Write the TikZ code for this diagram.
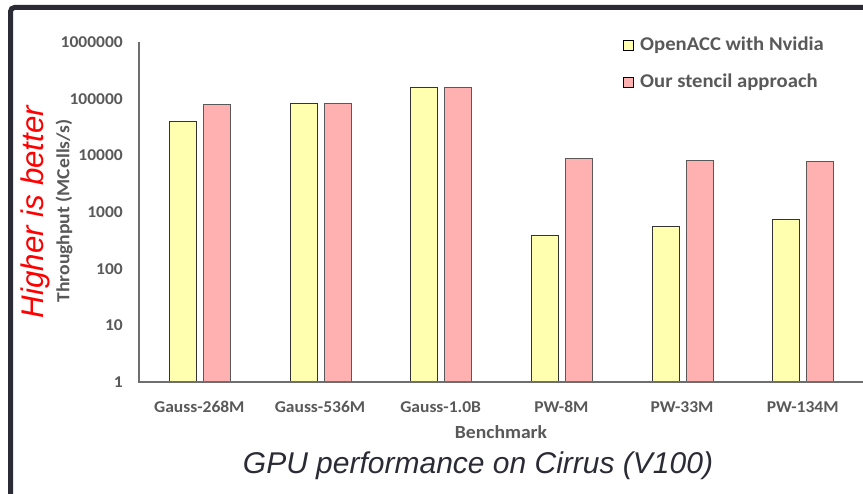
\documentclass[tikz,border=0pt]{standalone}
\usepackage{fontspec}
\setmainfont{Carlito}[FakeStretch=1.06]
\newfontfamily\titlefont{Liberation Sans}
\definecolor{framecol}{HTML}{2B2B35}
\definecolor{labelgrey}{HTML}{595959}
\definecolor{axisgrey}{HTML}{6E6E6E}
\definecolor{barY}{HTML}{FFFFAF}
\definecolor{barP}{HTML}{FFB1B1}
\definecolor{titleink}{HTML}{2B2B35}
\tikzset{
  ticklbl/.style={anchor=east, inner sep=0pt, text=labelgrey, font=\fontsize{16.5}{16.5}\selectfont\bfseries},
  catlbl/.style={inner sep=0pt, text=labelgrey, font=\fontsize{16.5}{16.5}\selectfont\bfseries},
  axislbl/.style={inner sep=0pt, text=labelgrey, font=\fontsize{18.5}{18.5}\selectfont\bfseries},
  legtext/.style={anchor=west, inner sep=0pt, text=labelgrey, font=\fontsize{19.5}{19.5}\selectfont\bfseries},
  yellowbar/.style={fill=barY, draw=black!80, line width=0.9pt},
  pinkbar/.style={fill=barP, draw=black!65, line width=0.9pt},
  axisline/.style={draw=axisgrey, line width=1.3pt},
}
\begin{document}
\begin{tikzpicture}[x=1pt, y=-1pt]
\useasboundingbox (0,0) rectangle (863,494);
\fill[white] (0,0) rectangle (863,494);
% slide frame
\draw[framecol, line width=5pt, rounded corners=4pt] (10.5,500) -- (10.5,7.5) -- (875,7.5);

% one decade of the log axis, in px
\def\dec{56.67}
\def\base{382}

% axes
\coordinate (o) at (139,\base);
\coordinate (ytop) at (139,42);
\coordinate (xend) at (863,\base);
\draw[axisline] (ytop) -- (o) -- (xend);

% tick labels
\foreach \lbl [count=\k from 0] in {1,10,100,1000,10000,100000,1000000}
  \node[ticklbl] (tick\k) at (123,{\base-\dec*\k}) {\lbl};

% bars: group index, category, log10 of OpenACC, log10 of stencil
\foreach \g/\name/\ly/\lp in {0/Gauss-268M/4.60/4.90, 1/Gauss-536M/4.92/4.92, 2/Gauss-1.0B/5.20/5.20,
                              3/PW-8M/2.58/3.95, 4/PW-33M/2.74/3.91, 5/PW-134M/2.86/3.89}{
  \pgfmathsetmacro\c{139+120.67*(\g+0.5)}
  \path[yellowbar] ({\c-30},\base) rectangle ({\c-3},{\base-\dec*\ly});
  \path[pinkbar] ({\c+4},\base) rectangle ({\c+31},{\base-\dec*\lp});
  \node[catlbl] (cat\g) at (\c,407) {\name};
}
\draw[axisline] (o) -- (xend);

% axis titles
\node[axislbl] (xtitle) at (501,432) {Benchmark};
\node[axislbl, rotate=90] (ytitle) at (64,211) {Throughput (MCells/s)};
\node[inner sep=0pt, rotate=90, text=red, font=\titlefont\itshape\fontsize{31.3}{31.3}\selectfont] (better) at (35,212) {Higher is better};

% legend
\node[draw=black, line width=0.9pt, fill=barY, minimum size=9.5pt, inner sep=0pt] (keyY) at (628.5,45.5) {};
\node[draw=black, line width=0.9pt, fill=barP, minimum size=9.5pt, inner sep=0pt] (keyP) at (628.5,82.5) {};
\node[legtext] (legY) at (640,45.5) {OpenACC with Nvidia};
\node[legtext] (legP) at (640,82.5) {Our stencil approach};

% caption
\node[inner sep=0pt, text=titleink, font=\titlefont\itshape\fontsize{30}{30}\selectfont] (caption) at (478,466) {GPU performance on Cirrus (V100)};
\end{tikzpicture}
\end{document}
